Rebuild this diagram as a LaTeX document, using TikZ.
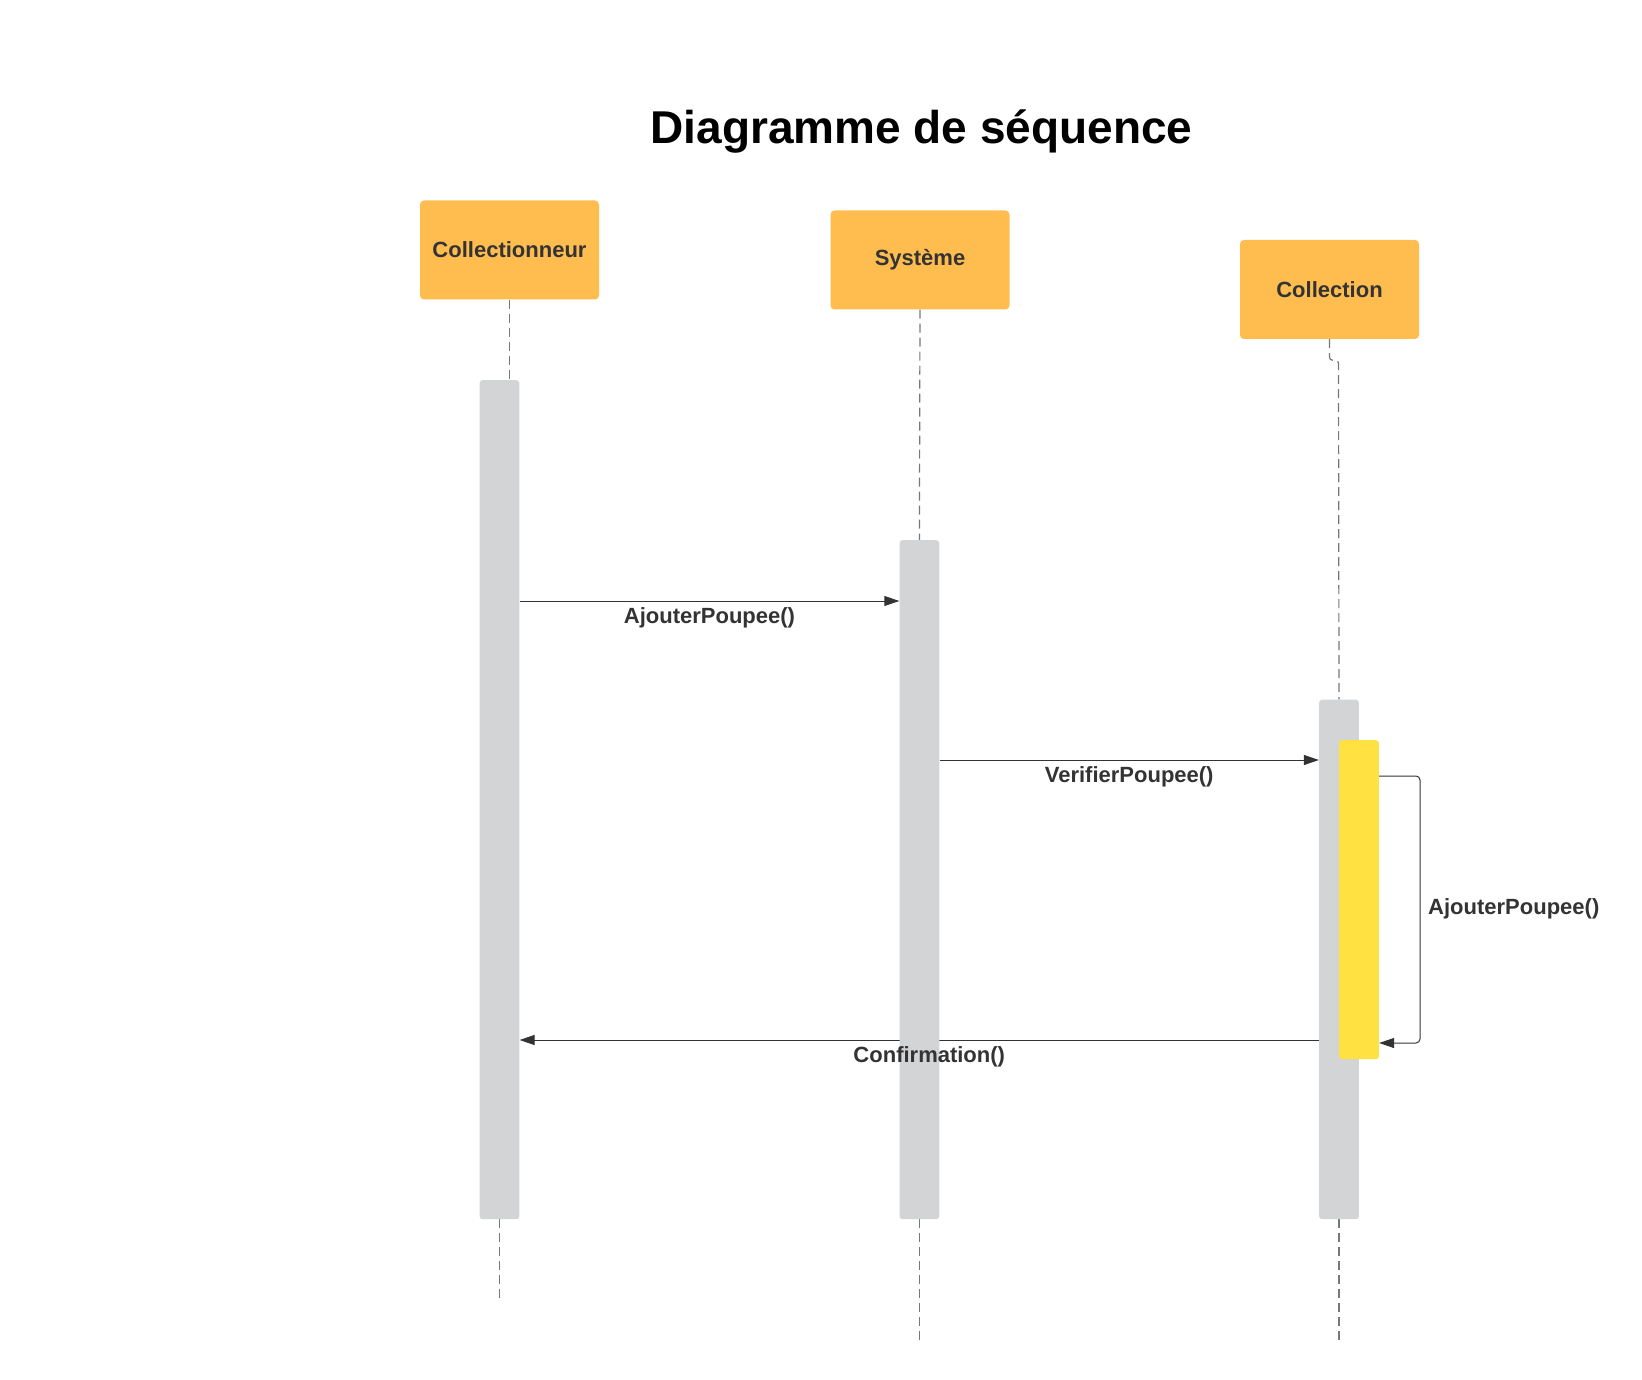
\documentclass[tikz,border=0pt]{standalone}
\usepackage{fontspec}
\setmainfont{Liberation Sans}
\usetikzlibrary{arrows.meta,backgrounds}

\definecolor{headfill}{HTML}{FFBD50}
\definecolor{barfill}{HTML}{D3D4D6}
\definecolor{selffill}{HTML}{FFE141}
\definecolor{ink}{HTML}{333333}
\definecolor{lifegray}{HTML}{777777}

\newcommand{\lifeHead}[3]{% #1: name of head
                          % #2: center of head
                          % #3: text of head
    \node (#1) [head, at={#2}] {#3};
   }
\newcommand{\actBar}[4]{% #1: name of bar
                        % #2: top of bar
                        % #3: height of bar
                        % #4: fill of bar
    \node (#1) [bar, fill=#4, minimum height=#3, anchor=north, at={#2}] {};
   }

\begin{document}
\begin{tikzpicture}[x=1pt,y=-1pt,
    head/.style={rectangle, rounded corners=4pt, fill=headfill, draw=none,
                 minimum width=179pt, minimum height=99pt, inner sep=0pt,
                 text=ink, font=\bfseries\fontsize{22}{26}\selectfont},
    bar/.style={rectangle, rounded corners=3pt, draw=none, inner sep=0pt,
                minimum width=39.8pt},
    life/.style={lifegray, line width=1.2pt, dash pattern=on 9pt off 5pt},
    msg/.style={ink, line width=1pt, -{Triangle[length=15pt,width=10pt]}},
    lbl/.style={text=ink, font=\bfseries\fontsize{22}{26}\selectfont, inner sep=0pt}]

\useasboundingbox (0,0) rectangle (1642,1380);

\def\ya{601};\def\yb{760};\def\yc{776};\def\yd{1043};\def\ye{1040};

\node (title) [anchor=base, font=\bfseries\fontsize{46}{52}\selectfont] at (921.5,143.5) {Diagramme de séquence};

\lifeHead{head_1}{(509.5,250)}{Collectionneur};
\lifeHead{head_2}{(920,260)}{Système};
\lifeHead{head_3}{(1329.5,289.5)}{Collection};

\actBar{act_1}{(499.5,380)}{839pt}{barfill};
\actBar{act_2}{(919.4,540)}{679pt}{barfill};
\actBar{act_3}{(1339,699.5)}{519.5pt}{barfill};
\actBar{act_4}{(1359,740)}{319pt}{selffill};

\coordinate (msg_1) at (0,\ya);
\coordinate (msg_2) at (0,\yb);
\coordinate (msg_3) at (0,\yc);
\coordinate (msg_4) at (0,\yd);
\coordinate (msg_5) at (0,\ye);
\coordinate (loop_r) at (1420,0);

\coordinate (end_1) at (499.5,1302);
\coordinate (end_2) at (919.4,1340);
\coordinate (end_3) at (1339,1340);

\begin{scope}[on background layer]
\draw[life] (head_1.south) -- (head_1.south |- act_1.north);
\draw[life] (head_2.south) -- (act_2.north);
\draw[life,rounded corners=3pt] (head_3.south) |- ++(9,21) -- (act_3.north);

\draw[life] (act_1.south) -- (end_1);
\draw[life] (act_2.south) -- (end_2);
\draw[life] (act_3.south) -- (end_3);

\draw[msg] (act_4.west |- msg_5) -- (act_1.east |- msg_5) coordinate[midway] (conf_mid);
\end{scope}

\draw[msg] (act_1.east |- msg_1) -- (act_2.west |- msg_1)
    node[lbl, midway, yshift=-16.5pt] {AjouterPoupee()};
\draw[msg] (act_2.east |- msg_2) -- (act_3.west |- msg_2)
    node[lbl, midway, yshift=-16.5pt] {VerifierPoupee()};
\draw[msg, rounded corners=4pt] (act_4.east |- msg_3) -| (loop_r |- msg_4) -- (act_4.east |- msg_4);

\node (conf_lbl) [lbl, yshift=-16.5pt] at (conf_mid) {Confirmation()};
\node (self_lbl) [lbl, anchor=west] at (1428,908.5) {AjouterPoupee()};
\end{tikzpicture}
\end{document}
